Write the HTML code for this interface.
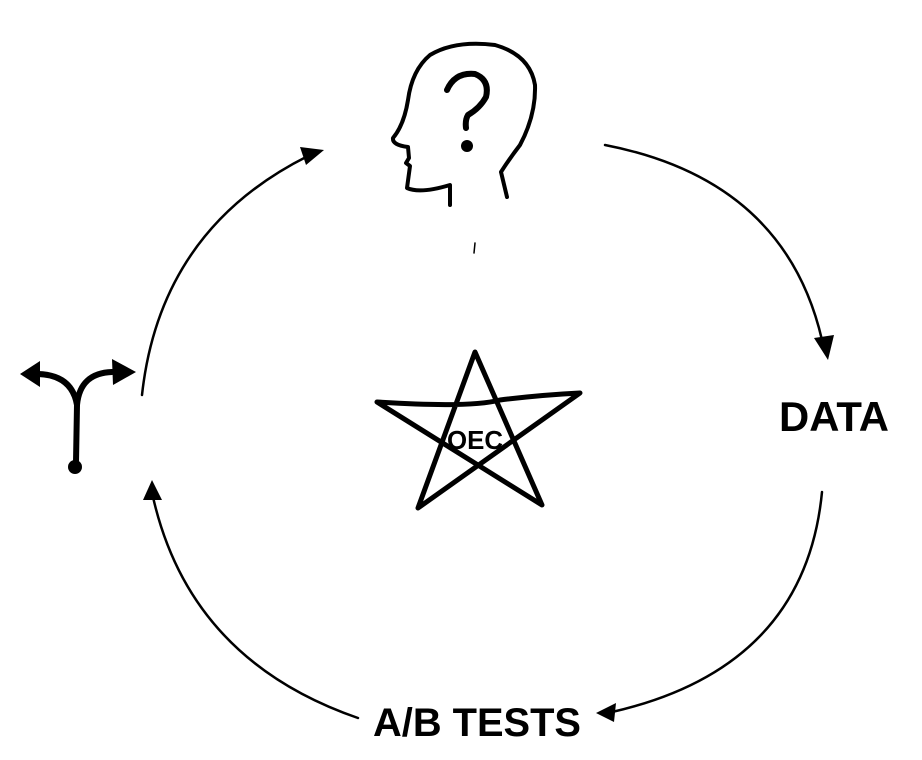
<!DOCTYPE html>
<html><head><meta charset="utf-8"><style>
html,body{margin:0;padding:0;background:#fff;width:922px;height:760px;overflow:hidden}
svg{display:block}
text{font-family:"Liberation Sans",sans-serif;font-weight:bold;fill:#000}
</style></head><body>
<svg width="922" height="760" viewBox="0 0 922 760" xmlns="http://www.w3.org/2000/svg">
<g fill="none" stroke="#000" stroke-linecap="round" stroke-linejoin="round">
<path stroke-width="4" d="M507,197 L501,172 Q510,158 520,145 Q536,115 535,85 Q530,55 495,45 Q455,40 430,55 Q412,70 408,100 Q404,125 393,138 Q392,145 408,147 L409,158 L406,163 L410,166 L407,188 Q420,194 450,185 L450,205"/>
<path stroke-width="6" d="M447,90 Q455,72 475,74 Q490,80 486,97 Q480,108 468,115 Q465,120 466,128"/>
<line x1="475" y1="243" x2="474" y2="253" stroke-width="1.5"/>
<path stroke-width="5" d="M418,508 L475,352 L542,505 L377,402 Q470,408 500,400 Q540,395 580,393 Z"/>
<path stroke-width="2.5" d="M142,395 Q160,230 308,156"/>
<path stroke-width="2.5" d="M605,145 Q785,180 822,340"/>
<path stroke-width="2.5" d="M822,492 Q805,668 612,712"/>
<path stroke-width="2.5" d="M358,718 Q190,660 153,497"/>
<path stroke-width="6" d="M76,462 L77,405 Q72,375 38,374"/>
<path stroke-width="6" d="M77,405 Q80,373 112,372"/>
</g>
<g fill="#000">
<circle cx="467" cy="146" r="6"/>
<polygon points="324,150 300,147 306,165"/>
<polygon points="828,360 814,338 834,335"/>
<polygon points="596,713 616,703 614,722"/>
<polygon points="152,480 143,500 162,500"/>
<circle cx="75" cy="467" r="7"/>
<polygon points="20,374 40,361 40,387"/>
<polygon points="136,372 112,359 113,385"/>
<text x="447" y="449" font-size="26" textLength="56" lengthAdjust="spacingAndGlyphs">OEC</text>
<text x="779" y="431" font-size="42" textLength="110" lengthAdjust="spacingAndGlyphs">DATA</text>
<text x="373" y="736" font-size="40" textLength="208" lengthAdjust="spacingAndGlyphs">A/B TESTS</text>
</g>
</svg>
</body></html>
